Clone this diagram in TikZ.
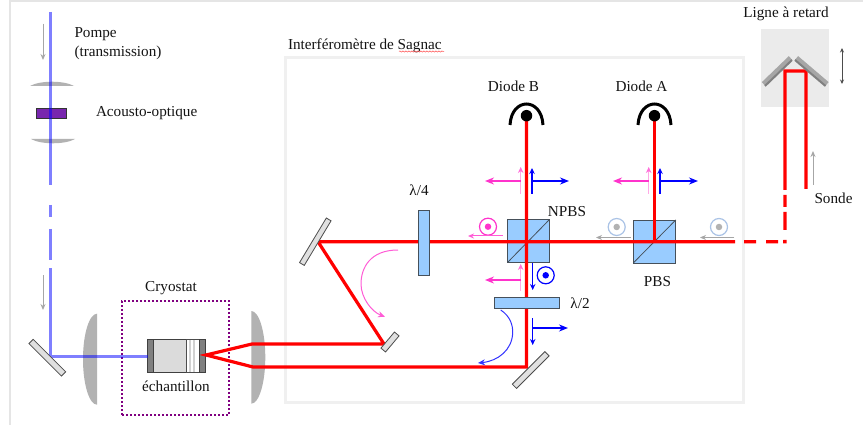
\documentclass[tikz,border=0pt]{standalone}
\usepackage{fontspec}
\setmainfont{Liberation Serif}
\usetikzlibrary{arrows.meta,decorations.pathmorphing}
\definecolor{pumpblue}{RGB}{0,0,255}
\definecolor{lensgray}{RGB}{178,178,178}
\definecolor{platecol}{RGB}{153,204,255}
\definecolor{platebord}{RGB}{70,80,90}
\definecolor{polpink}{RGB}{255,51,204}
\definecolor{polpale}{RGB}{255,170,230}
\definecolor{ringblue}{RGB}{170,195,230}
\definecolor{framegray}{RGB}{240,240,240}
\definecolor{darkpurple}{RGB}{128,0,128}
\tikzset{
  every node/.style={outer sep=0pt},
  lbl/.style={font=\fontsize{15.2}{17}\selectfont,text=black!92,inner sep=0pt},
  beam/.style={draw=red,line width=3.2pt},
  pump/.style={draw=pumpblue,opacity=.5,line width=3pt},
  lens/.style={fill=lensgray,draw=none},
  mirrorbox/.style={draw=black!70,fill=black!12,line width=.8pt,inner sep=0pt},
  plate/.style={draw=platebord,fill=platecol,line width=.8pt,inner sep=0pt,minimum width=0pt,minimum height=0pt},
  pol/.style={-{Stealth[length=6pt,width=5.5pt]},line width=1.1pt},
  polbig/.style={-{Stealth[length=9pt,width=7pt]},line width=2pt},
  grayarrow/.style={-{Stealth[length=6pt,width=5pt]},draw=black!35,fill=black!35,line width=1pt},
  ring/.style={circle,draw,line width=1.2pt,minimum size=17pt,inner sep=0pt},
  ringdot/.style={circle,inner sep=0pt,minimum size=6.5pt},
  diodedot/.style={circle,fill=black,inner sep=0pt,minimum size=11.5pt},
  diodearc/.style={draw=black,line width=3pt}
}
\begin{document}
\begin{tikzpicture}[x=1pt,y=-1pt]
\useasboundingbox (0,0) rectangle (863,425);
\fill[white] (0,0) rectangle (863,425);
% page edges
\draw[draw=black!10,line width=1.2pt] (10,425) -- (10,1) -- (863,1);
% Sagnac frame
\node[draw=framegray,line width=3pt,minimum width=458pt,minimum height=345pt,inner sep=0pt,anchor=north west] (sagnac) at (285.5,57.5) {};
% Delay line box
\node[fill=black!8,minimum width=68pt,minimum height=78pt,inner sep=0pt,anchor=north west] (delay) at (761,29) {};
% Lenses
\path[lens] (30,86) .. controls (40,80.3) and (64,80.3) .. (74,86) -- cycle;
\path[lens] (31,139) .. controls (41,144.7) and (65,144.7) .. (75,139) -- cycle;
\path[lens] (97,313.7) .. controls (89.3,313.7) and (83,334) .. (83,359.2) .. controls (83,384.4) and (89.3,404.7) .. (97,404.7) -- cycle;
\path[lens] (251.3,311) .. controls (259,311) and (265.3,331.7) .. (265.3,357.3) .. controls (265.3,383) and (259,403.7) .. (251.3,403.7) -- cycle;
% AOM
\node[draw=black!80,fill=darkpurple!75!blue!85!white,line width=.7pt,minimum width=30pt,minimum height=10pt,inner sep=0pt] (aom) at (51,113) {};
% Cryostat
\node[draw=darkpurple,dash pattern=on 2pt off 2pt,line width=1.8pt,minimum width=107pt,minimum height=114pt,inner sep=0pt,anchor=north west] (cryo) at (122,301) {};
% Sample
\node[draw=black!75,fill=black!14,line width=.8pt,minimum width=33pt,minimum height=33pt,inner sep=0pt,anchor=north west] (samplemid) at (153,339.5) {};
\node[draw=black!70,fill=white,line width=.8pt,minimum width=13pt,minimum height=33pt,inner sep=0pt,anchor=north west] (samplestripe) at (186,339.5) {};
\foreach \xx in {190,194}{\draw[black!18,line width=1.4pt] (\xx,340) -- (\xx,372);}
\node[draw=black!75,fill=black!50,line width=.8pt,minimum width=6pt,minimum height=33pt,inner sep=0pt,anchor=north west] (capl) at (147.5,339.5) {};
\node[draw=black!75,fill=black!50,line width=.8pt,minimum width=6pt,minimum height=33pt,inner sep=0pt,anchor=north west] (capr) at (199,339.5) {};
% Pump beam
\coordinate (pstart) at (50.7,12);
\coordinate (pcorner) at (50.7,356);
\draw[pump,dash pattern=on 173pt off 20pt on 12pt off 12pt on 31pt off 8pt on 500pt] (pstart) -- (pcorner) -- (capl.west |- pcorner);
% Cubes
\node[plate,minimum width=41.5pt,minimum height=42.5pt] (npbs) at (528.5,241) {};
\node[plate,minimum width=42.5pt,minimum height=43pt] (pbs) at (654.5,241.5) {};
\draw[platebord,line width=.8pt] (npbs.south west) -- (npbs.north east);
\draw[platebord,line width=.8pt] (pbs.south west) -- (pbs.north east);
% Probe beam
\coordinate (sa) at (806,189);
\coordinate (sb) at (806,71);
\coordinate (sc) at (785,71);
\coordinate (sd) at (785,241.7);
\coordinate (focus) at (206,355);
\coordinate (l1) at (252,344);
\coordinate (l2) at (253,367);
\coordinate (mmirror) at (384,344);
\coordinate (bigm) at (318,241.7);
\coordinate (lowm) at (526.5,367);
\coordinate (da) at (654.5,118);
\coordinate (db) at (526.5,118);
\coordinate (pbsc) at (654.5,241.7);
\draw[beam,line join=miter,dash pattern=on 258pt off 5pt on 12pt off 5pt on 18pt off 10pt on 3.7pt off 5pt on 12pt off 10pt on 12pt off 9pt on 4000pt] (sa) -- (sb) -- (sc) -- (sd) -- (bigm) -- (mmirror) -- (l1) -- (focus) -- (l2) -- (lowm) -- (db);
\draw[beam] (pbsc) -- (da);
% plates
\node[plate,minimum width=11pt,minimum height=65pt] (qwp) at (423.5,242.5) {};
\node[plate,minimum width=65pt,minimum height=11pt] (hwp) at (526.5,302.5) {};
% Mirrors
\node[mirrorbox,rotate=-45,minimum width=46pt,minimum height=6pt] (m1) at (47.3,357.7) {};
\node[mirrorbox,rotate=59,minimum width=52pt,minimum height=5.5pt] (m2) at (315.3,241.7) {};
\node[mirrorbox,rotate=50,minimum width=21pt,minimum height=6pt] (m3) at (390,342) {};
\node[mirrorbox,rotate=45,minimum width=46pt,minimum height=6pt] (m4) at (530.7,370) {};
% Delay mirrors
\draw[draw=black!35,line width=5pt] (763.5,84) -- (790.5,58);
\draw[draw=black!50,line width=2pt] (765,86) -- (792,60);
\draw[draw=black!35,line width=5pt] (796.5,58) -- (827,84);
\draw[draw=black!50,line width=2pt] (795,60) -- (825.5,86);
% Diodes
\foreach \nm/\xc in {a/654.5,b/526.5}{
  \node[diodedot] (dd\nm) at (\xc,115.7) {};
  \coordinate (al\nm) at (\xc-16.5,125);
  \coordinate (ar\nm) at (\xc+16.5,125);
  \draw[diodearc] (al\nm) .. controls (\xc-15,97) and (\xc+15,97) .. (ar\nm);
}
% Polarisation, detectors
\foreach \xp/\xq/\xl/\xr/\yy in {520.7/532/485/569/181,648.7/660/613/698/181}{
  \draw[pol,polpale,line width=1.5pt,-{Stealth[length=6pt,width=5.5pt,color=polpink!70]}] (\xp,194) -- (\xp,167);
  \draw[polbig,polpink] (\xp,\yy) -- (\xl,\yy);
  \draw[pol,blue] (\xq,194) -- (\xq,168);
  \draw[polbig,blue] (\xq,\yy) -- (\xr,\yy);
}
% Below NPBS
\draw[pol,blue] (532.7,263) -- (532.7,290);
\node[ring,draw=blue] (rb) at (545.7,275.3) {};
\node[ringdot,fill=blue] (rbd) at (rb) {};
\draw[pol,polpale,line width=1.5pt,-{Stealth[length=6pt,width=5.5pt,color=polpink!70]}] (520.7,290.7) -- (520.7,264);
\draw[polbig,polpink] (520.7,280) -- (485,280);
% Below HWP
\draw[pol,blue] (532.7,318) -- (532.7,345);
\draw[polbig,blue] (532.7,328) -- (568,328);
% Circular marks on horizontal beam
\node[ring,draw=polpink] (rp) at (488,226.7) {};
\node[ringdot,fill=polpink] (rpd) at (rp) {};
\draw[-{Stealth[length=6pt,width=5pt]},polpink!80,line width=1pt] (502.7,236) -- (468,236);
\node[ring,draw=ringblue] (rg1) at (616.7,227) {};
\node[ringdot,fill=black!30] (rg1d) at (rg1) {};
\draw[grayarrow] (630.7,237.5) -- (596,237.5);
\node[ring,draw=ringblue] (rg2) at (719,227) {};
\node[ringdot,fill=black!30] (rg2d) at (rg2) {};
\draw[grayarrow] (734,237.5) -- (700,237.5);
% Rotation arrows
\coordinate (pc1) at (398,250);
\coordinate (pc2) at (385,316.7);
\draw[-{Stealth[length=7pt,width=6pt]},polpink!80,line width=1pt] (pc1) .. controls (370,250) and (361,268) .. (361,284) .. controls (361,298) and (372,312) .. (pc2);
\coordinate (bc1) at (500.7,310);
\coordinate (bc2) at (478,363);
\draw[-{Stealth[length=7pt,width=6pt]},blue!80,line width=1pt] (bc1) .. controls (510,316) and (513,325) .. (512.7,333) .. controls (512,350) and (498,361) .. (bc2);
% Gray direction arrows
\draw[grayarrow] (43,24) -- (43,60);
\draw[grayarrow] (43,275) -- (43,310);
\draw[grayarrow] (813,185) -- (813,151);
\draw[{Stealth[length=4.5pt,width=4pt]}-{Stealth[length=4.5pt,width=4pt]},black!70,line width=1pt] (842,48) -- (842,84);
% Labels
\node[lbl,anchor=west] (tpompe) at (74.5,34.5) {Pompe};
\node[lbl,anchor=west] (ttrans) at (74.5,52.5) {(transmission)};
\node[lbl,anchor=west] (taom) at (96,113) {Acousto-optique};
\node[lbl,anchor=west] (tsag) at (288,45.5) {Interféromètre de Sagnac};
\draw[red!70,line width=.5pt,decorate,decoration={snake,amplitude=.6pt,segment length=3pt}] (399,51.5) -- (444,51.5);
\node[lbl] (tdb) at (513.5,86) {Diode B};
\node[lbl] (tda) at (641.5,86) {Diode A};
\node[lbl] (tlig) at (786,14) {Ligne à retard};
\node[lbl,anchor=west] (tsonde) at (814.5,198.5) {Sonde};
\node[lbl] (tnpbs) at (567,212) {NPBS};
\node[lbl] (tpbs) at (657.5,282) {PBS};
\node[lbl] (tq) at (419,190) {λ/4};
\node[lbl] (th) at (580,303) {λ/2};
\node[lbl] (tcry) at (171,288) {Cryostat};
\node[lbl] (tech) at (176,386) {échantillon};
\end{tikzpicture}
\end{document}
